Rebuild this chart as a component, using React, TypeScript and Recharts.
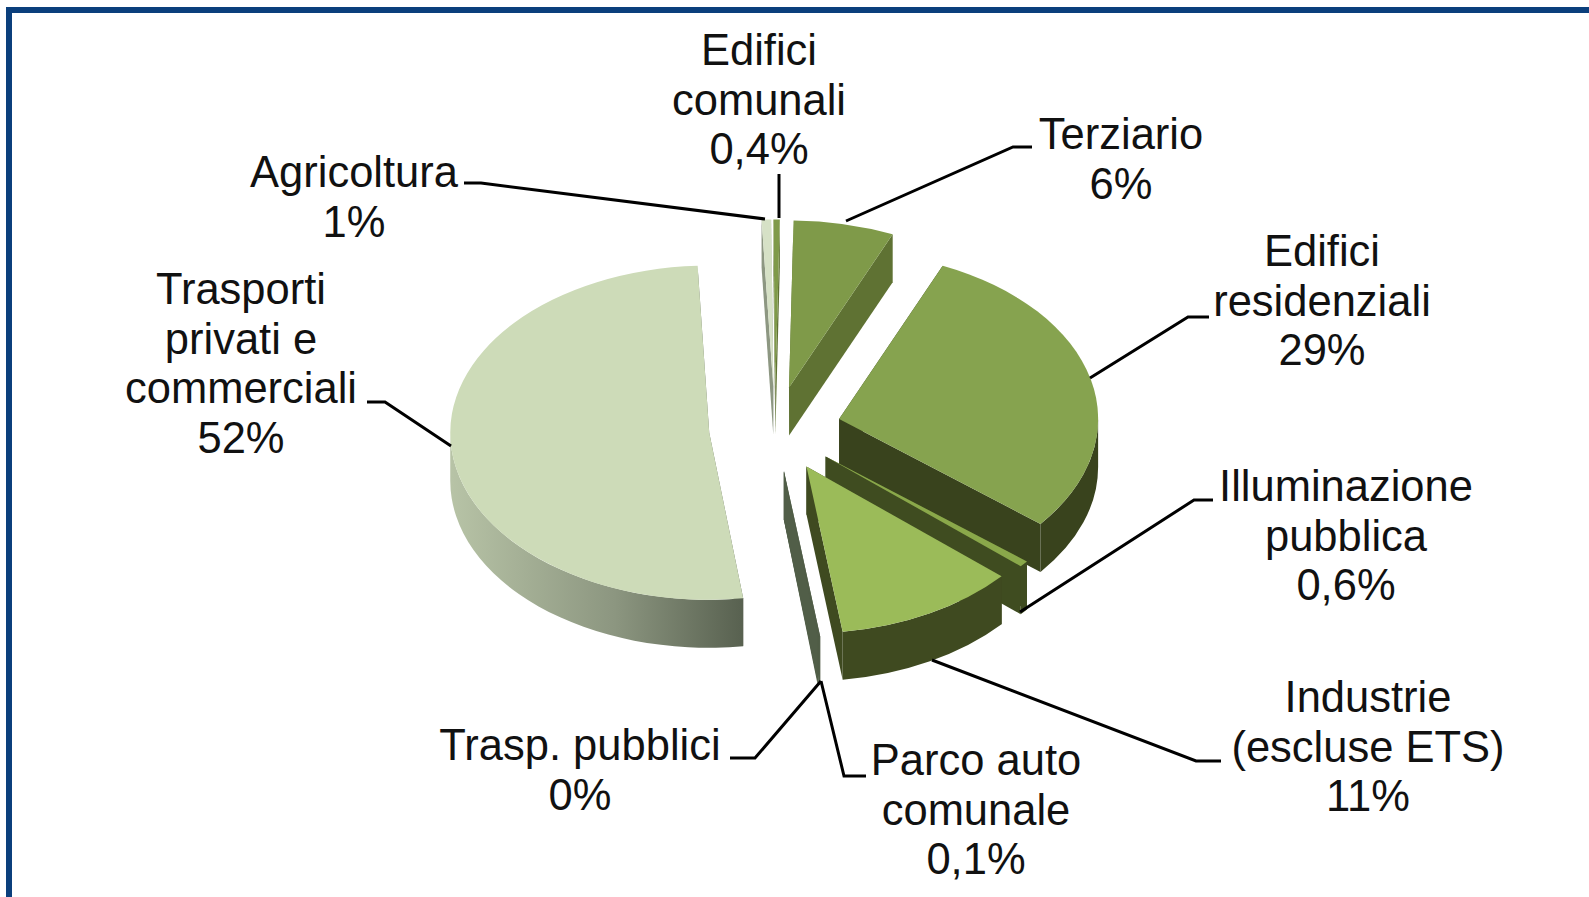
import React from 'react';
import { PieChart, Pie, Cell } from 'recharts';

// clockwise from the top of the pie
const categories = [
  'Terziario',
  'Edifici residenziali',
  'Illuminazione pubblica',
  'Industrie (escluse ETS)',
  'Parco auto comunale',
  'Trasp. pubblici',
  'Trasporti privati e commerciali',
  'Agricoltura',
  'Edifici comunali',
];
const values = [6.3, 29.4, 0.6, 11.4, 0.1, 0.04, 51.6, 0.6, 0.4];
const percentLabels = ['6%', '29%', '0,6%', '11%', '0,1%', '0%', '52%', '1%', '0,4%'];
const nameLines = [
  ['Terziario'],
  ['Edifici', 'residenziali'],
  ['Illuminazione', 'pubblica'],
  ['Industrie', '(escluse ETS)'],
  ['Parco auto', 'comunale'],
  ['Trasp. pubblici'],
  ['Trasporti', 'privati e', 'commerciali'],
  ['Agricoltura'],
  ['Edifici', 'comunali'],
];

const topColors = ['#7f9a49', '#86a34f', '#8aa84a', '#9bbb59', '#515e48', '#515e48', '#cddbb8', '#d6e1c6', '#7f9a49'];
const wallColors = ['#5f7233', '#39431d', '#3f4c20', '#3f4a20', '#515e48', '#515e48', 'url(#transportWall)', '#8d9782', '#5f7233'];

// layout of the label text: centre x, first baseline
const labelAnchors = [
  [1121, 149], [1322, 266], [1346, 501], [1368, 712], [976, 775], [580, 760], [241, 304], [354, 187], [759, 65],
];
// leader lines, from the text to the slice
const leaders = [
  '1032,147 1013,147 846,221',
  '1209,317 1188,317 1090,378',
  '1213,500 1194,500 1020,612',
  '1221,761 1196,761 932,660',
  '866,776 844,776 821,681',
  '730,758 755,758 821,681',
  '367,402 385,402 451,446',
  '464,183 481,183 765,219',
  '779,174 779,218',
];

const chartData = categories.map((name, i) => ({ name, value: values[i] }));

const TILT = 0.645;
const DEPTH = 48;
const EXPLODE = 66;
const RAD = Math.PI / 180;

const Slice3D = (props: any) => {
  const { cx, cy, outerRadius: r, startAngle, endAngle, index } = props;
  const i = index ?? categories.indexOf(props.name);
  const mid = (startAngle + endAngle) / 2;
  const ox = cx + EXPLODE * Math.cos(mid * RAD);
  const oy = cy - EXPLODE * TILT * Math.sin(mid * RAD);
  const ry = r * TILT;
  const pt = (a: number) => [ox + r * Math.cos(a * RAD), oy - ry * Math.sin(a * RAD)];
  const [sx, sy] = pt(startAngle);
  const [ex, ey] = pt(endAngle);
  const large = Math.abs(startAngle - endAngle) > 180 ? 1 : 0;
  const wall = wallColors[i];

  const cut = (x: number, y: number) =>
    `M${ox},${oy} L${x},${y} L${x},${y + DEPTH} L${ox},${oy + DEPTH} Z`;

  // the rim only shows on the front half of the ellipse
  const a1 = Math.min(startAngle, 0);
  const a2 = Math.max(endAngle, -180);
  let rim = '';
  if (a1 > a2) {
    const [x1, y1] = pt(a1);
    const [x2, y2] = pt(a2);
    rim =
      `M${x1},${y1} A${r},${ry} 0 0 1 ${x2},${y2} L${x2},${y2 + DEPTH} ` +
      `A${r},${ry} 0 0 0 ${x1},${y1 + DEPTH} Z`;
  }

  return (
    <g>
      <path d={cut(sx, sy)} fill={wall} />
      <path d={cut(ex, ey)} fill={wall} />
      {rim && <path d={rim} fill={wall} />}
      <path d={`M${ox},${oy} L${sx},${sy} A${r},${ry} 0 ${large} 1 ${ex},${ey} Z`} fill={topColors[i]} />
    </g>
  );
};

const renderLabel = (props: any) => {
  const i = props.index;
  const [x, y] = labelAnchors[i];
  const lines = [...nameLines[i], percentLabels[i]];
  return (
    <g key={categories[i]}>
      <polyline points={leaders[i]} fill="none" stroke="#000" strokeWidth={3} />
      <text x={x} y={y} textAnchor="middle" fontFamily="Liberation Sans, Arial, sans-serif" fontSize={43.5} fill="#111">
        {lines.map((line, n) => (
          <tspan key={n} x={x} dy={n === 0 ? 0 : 49.7}>
            {line}
          </tspan>
        ))}
      </text>
    </g>
  );
};

export default function App() {
  return (
    <div style={{ position: 'absolute', left: 0, top: 0, width: 1589, height: 897, background: '#fff', overflow: 'hidden' }}>
      <div style={{ position: 'absolute', left: 6, top: 7, width: 1589, height: 897, borderTop: '6px solid #0b3f7c', borderLeft: '6px solid #0b3f7c', boxSizing: 'border-box' }} />
      <div style={{ position: 'absolute', left: 0, top: 0 }}>
        <PieChart width={1589} height={897} margin={{ top: 0, right: 0, bottom: 0, left: 0 }}>
          <defs>
            <linearGradient id="transportWall" x1="452" x2="748" y1="0" y2="0" gradientUnits="userSpaceOnUse">
              <stop offset="0" stopColor="#b7c3a6" />
              <stop offset="0.55" stopColor="#8c9680" />
              <stop offset="1" stopColor="#565f4e" />
            </linearGradient>
          </defs>
          <Pie
            data={chartData}
            dataKey="value"
            nameKey="name"
            cx={775}
            cy={429}
            innerRadius={0}
            outerRadius={259}
            startAngle={89}
            endAngle={-271}
            stroke="none"
            isAnimationActive={false}
            shape={Slice3D}
            label={renderLabel}
            labelLine={false}
          >
            {chartData.map((d, i) => (
              <Cell key={d.name} fill={topColors[i]} />
            ))}
          </Pie>
        </PieChart>
      </div>
    </div>
  );
}
